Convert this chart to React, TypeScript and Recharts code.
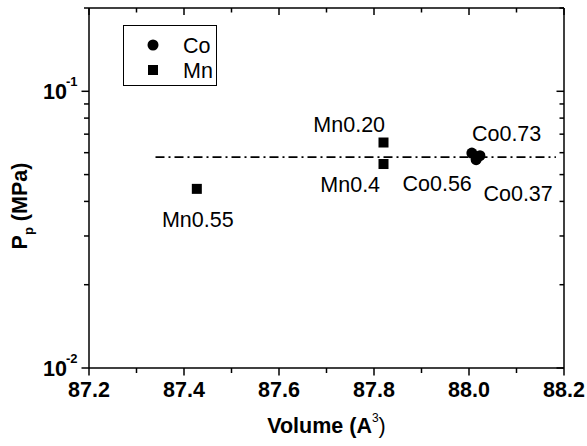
import React from 'react';
import { ScatterChart, Scatter, XAxis, YAxis, ReferenceLine, Legend } from 'recharts';

const FONT = '"Liberation Sans", Arial, Helvetica, sans-serif';

// Co-doped samples
const coVolume = [88.006, 88.023, 88.015];
const coPressure = [0.0598, 0.0585, 0.0566];
const coLabels = ['Co0.56', 'Co0.73', 'Co0.37'];

// Mn-doped samples
const mnVolume = [87.427, 87.82, 87.82];
const mnPressure = [0.0444, 0.0653, 0.0546];
const mnLabels = ['Mn0.55', 'Mn0.20', 'Mn0.4'];

// dash-dot guide line
const guideLevel = 0.0578;
const guideStart = 87.34;
const guideEnd = 88.183;

const xDomain = [87.2, 88.2];
const xTicks = [87.2, 87.3, 87.4, 87.5, 87.6, 87.7, 87.8, 87.9, 88.0, 88.1, 88.2];
const xLabeledTicks = [87.2, 87.4, 87.6, 87.8, 88.0, 88.2];
const yDomain = [0.01, 0.2];
const yTicks = [0.01, 0.02, 0.03, 0.04, 0.05, 0.06, 0.07, 0.08, 0.09, 0.1, 0.2];
const yLabeledTicks = [0.01, 0.1];
const yTickExponents = ['-2', '-1'];

const labelOffsets: Record<string, [number, number]> = {
  'Co0.56': [-34.7, 37.7],
  'Co0.73': [26.7, -15],
  'Co0.37': [42, 41.7],
  'Mn0.55': [1, 38],
  'Mn0.20': [-34.3, -11],
  'Mn0.4': [-33.3, 28.4],
};

const coData = coVolume.map((v, i) => ({ x: v, y: coPressure[i], name: coLabels[i] }));
const mnData = mnVolume.map((v, i) => ({ x: v, y: mnPressure[i], name: mnLabels[i] }));

const near = (list: number[], v: number) => list.findIndex((t) => Math.abs(t - v) < 1e-6);

const BottomTick = (props: any) => {
  const { x, y, payload } = props;
  const major = near(xLabeledTicks, payload.value) >= 0;
  return (
    <g>
      <line x1={x} x2={x} y1={y} y2={y + (major ? 7.5 : 5)} stroke="#000" strokeWidth={1.5} />
      {major && (
        <text x={x} y={y + 29} textAnchor="middle" fontFamily={FONT} fontWeight="bold" fontSize={21.5} fill="#000">
          {Number(payload.value).toFixed(1)}
        </text>
      )}
    </g>
  );
};

const TopTick = (props: any) => {
  const { x, y, payload } = props;
  const major = near(xLabeledTicks, payload.value) >= 0;
  return <line x1={x} x2={x} y1={y} y2={y + (major ? 7 : 4.5)} stroke="#000" strokeWidth={1.5} />;
};

const LeftTick = (props: any) => {
  const { x, y, payload } = props;
  const idx = near(yLabeledTicks, payload.value);
  const major = idx >= 0;
  return (
    <g>
      <line x1={x - (major ? 7.5 : 5)} x2={x} y1={y} y2={y} stroke="#000" strokeWidth={1.5} />
      {major && (
        <g>
          <text x={x - 22} y={y + 7.5} textAnchor="end" fontFamily={FONT} fontWeight="bold" fontSize={21.5} fill="#000">
            10
          </text>
          <text x={x - 23} y={y - 5} textAnchor="start" fontFamily={FONT} fontWeight="bold" fontSize={13} fill="#000">
            {yTickExponents[idx]}
          </text>
        </g>
      )}
    </g>
  );
};

const RightTick = (props: any) => {
  const { x, y, payload } = props;
  const major = near(yLabeledTicks, payload.value) >= 0;
  return <line x1={x - (major ? 7.5 : 4.5)} x2={x} y1={y} y2={y} stroke="#000" strokeWidth={1.5} />;
};

const XTitle = (props: any) => {
  const vb = props.viewBox || { x: 89, y: 368, width: 475, height: 60 };
  const cx = vb.x + vb.width / 2;
  const by = vb.y + 65;
  return (
    <text x={cx} y={by} textAnchor="middle" fontFamily={FONT} fontWeight="bold" fontSize={21.5} fill="#000">
      Volume (A
      <tspan dy={-11} fontSize={12} fontWeight="normal">3</tspan>
      <tspan dy={11} fontWeight="normal">)</tspan>
    </text>
  );
};

const YTitle = (props: any) => {
  const vb = props.viewBox || { x: 29, y: 8, width: 60, height: 360 };
  const bx = vb.x + vb.width - 62;
  const cy = vb.y + vb.height / 2 + 18;
  return (
    <text
      x={bx}
      y={cy}
      transform={`rotate(-90 ${bx} ${cy})`}
      textAnchor="middle"
      fontFamily={FONT}
      fontWeight="bold"
      fontSize={21.5}
      fill="#000"
    >
      P
      <tspan dy={6} fontSize={13}>p</tspan>
      <tspan dy={-6}> (MPa)</tspan>
    </text>
  );
};

const makeShape = (kind: 'circle' | 'square') => (props: any) => {
  const { cx, cy, payload } = props;
  const off = labelOffsets[payload?.name] || [0, 0];
  return (
    <g>
      {kind === 'circle' ? (
        <circle cx={cx} cy={cy} r={5.5} fill="#000" />
      ) : (
        <rect x={cx - 5} y={cy - 5} width={10} height={10} fill="#000" />
      )}
      <text x={cx + off[0]} y={cy + off[1]} textAnchor="middle" fontFamily={FONT} fontSize={21.5} fill="#000">
        {payload?.name}
      </text>
    </g>
  );
};

const LegendBox = (props: any) => {
  const items = props.payload || [];
  return (
    <svg width={94} height={61} style={{ display: 'block' }}>
      <rect x={0.5} y={0.5} width={93} height={60} fill="#fff" stroke="#000" strokeWidth={1} />
      {items.map((it: any, i: number) => {
        const cy = 20 + i * 25;
        return (
          <g key={i}>
            {it.type === 'circle' ? (
              <circle cx={30} cy={cy} r={5.5} fill="#000" />
            ) : (
              <rect x={25} y={cy - 5} width={10} height={10} fill="#000" />
            )}
            <text x={60} y={cy + 7.5} fontFamily={FONT} fontSize={21.5} fill="#000">
              {it.value}
            </text>
          </g>
        );
      })}
    </svg>
  );
};

export default function App() {
  return (
    <div style={{ position: 'absolute', left: 0, top: 0, width: 587, height: 446, background: '#fff' }}>
      <ScatterChart width={587} height={446} margin={{ top: 7, right: 22, bottom: 18, left: 29 }}>
        <XAxis
          xAxisId="b"
          type="number"
          dataKey="x"
          domain={xDomain}
          ticks={xTicks}
          interval={0}
          height={60}
          tickSize={0}
          tickMargin={0}
          tickLine={false}
          tick={(p: any) => <BottomTick {...p} />}
          axisLine={{ stroke: '#000', strokeWidth: 1.5 }}
          allowDataOverflow
          label={{ content: XTitle }}
        />
        <XAxis
          xAxisId="t"
          orientation="top"
          type="number"
          dataKey="x"
          domain={xDomain}
          ticks={xTicks}
          interval={0}
          height={1}
          tickSize={0}
          tickMargin={0}
          tickLine={false}
          tick={(p: any) => <TopTick {...p} />}
          axisLine={{ stroke: '#000', strokeWidth: 1.5 }}
          allowDataOverflow
        />
        <YAxis
          yAxisId="l"
          type="number"
          dataKey="y"
          scale="log"
          domain={yDomain}
          ticks={yTicks}
          interval={0}
          width={60}
          tickSize={0}
          tickMargin={0}
          tickLine={false}
          tick={(p: any) => <LeftTick {...p} />}
          axisLine={{ stroke: '#000', strokeWidth: 1.5 }}
          allowDataOverflow
          label={{ content: YTitle }}
        />
        <YAxis
          yAxisId="r"
          orientation="right"
          type="number"
          dataKey="y"
          scale="log"
          domain={yDomain}
          ticks={yTicks}
          interval={0}
          width={1}
          tickSize={0}
          tickMargin={0}
          tickLine={false}
          tick={(p: any) => <RightTick {...p} />}
          axisLine={{ stroke: '#000', strokeWidth: 1.5 }}
          allowDataOverflow
        />
        <ReferenceLine
          xAxisId="b"
          yAxisId="l"
          segment={[
            { x: guideStart, y: guideLevel },
            { x: guideEnd, y: guideLevel },
          ]}
          stroke="#000"
          strokeWidth={1.8}
          strokeDasharray="9 4 2 4"
          ifOverflow="visible"
        />
        <Scatter
          name="Co"
          data={coData}
          xAxisId="b"
          yAxisId="l"
          fill="#000"
          legendType="circle"
          shape={makeShape('circle')}
          isAnimationActive={false}
        />
        <Scatter
          name="Mn"
          data={mnData}
          xAxisId="b"
          yAxisId="l"
          fill="#000"
          legendType="square"
          shape={makeShape('square')}
          isAnimationActive={false}
        />
        <Legend
          layout="vertical"
          align="center"
          verticalAlign="middle"
          wrapperStyle={{ position: 'absolute', left: 123, top: 25, width: 94, height: 61 }}
          content={LegendBox}
        />
      </ScatterChart>
    </div>
  );
}
